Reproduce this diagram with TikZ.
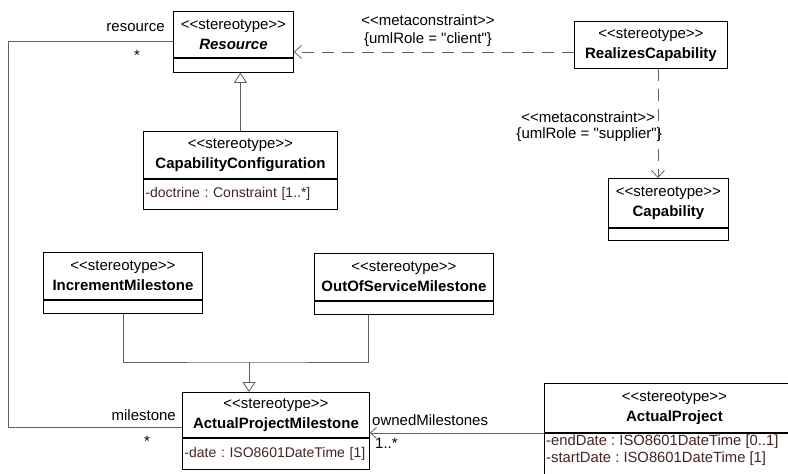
\documentclass[tikz,border=0pt]{standalone}
\usepackage{fontspec}
\setmainfont{Liberation Sans}
\usepackage{xcolor}
\usepackage{tikz}
\usetikzlibrary{arrows.meta, shapes, positioning}

\definecolor{attrtext}{RGB}{70,36,36}
\definecolor{linkgray}{RGB}{96,96,96}
\newcommand{\stereo}{<{}<stereotype>{}>}
\newcommand{\metac}{<{}<metaconstraint>{}>}
\newcommand{\qt}[1]{\textquotedbl#1\textquotedbl}
\frenchspacing

\begin{document}
\begin{tikzpicture}[x=1pt, y=-1pt,
  cls/.style={rectangle, draw, line width=0.9pt, fill=white, inner sep=0pt,
              align=center, anchor=north west, font=\fontsize{15}{20}\selectfont},
  compart/.style={rectangle, draw, line width=0.9pt, fill=white, inner xsep=2pt, inner ysep=3pt,
              text width=#1-4pt, minimum width=#1, align=left, text=attrtext,
              font=\fontsize{14}{17}\selectfont},
  lbl/.style={inner sep=0pt, font=\fontsize{15}{18}\selectfont},
  link/.style={draw=linkgray, line width=0.8pt},
  gen/.style={link, -{Triangle[open, length=10pt, width=13pt, fill=white]}},
  dep/.style={link, dash pattern=on 12pt off 8pt, -{Straight Barb[length=7pt, width=13pt]}},
  assoc/.style={link, -{Straight Barb[length=6pt, width=11pt]}}
]
\useasboundingbox (0,0) rectangle (788,474);
\clip (0,0) rectangle (788,474);

% classes
\node[cls, minimum width=120pt, minimum height=46pt] (res) at (173,11) {\stereo\\\textbf{\textit{Resource}}};
\node[compart=120pt, minimum height=14pt, below=0pt of res] (res-c) {};

\node[cls, minimum width=194pt, minimum height=47pt] (cc) at (143,131) {\stereo\\\textbf{CapabilityConfiguration}};
\node[compart=194pt, minimum height=30pt, below=0pt of cc] (cc-c) {\mbox{-doctrine : Constraint [1..*]}};

\node[cls, minimum width=153pt, minimum height=47pt] (rc) at (574,21) {\stereo\\\textbf{RealizesCapability}};

\node[cls, minimum width=120pt, minimum height=49pt] (cap) at (608,178) {\stereo\\\textbf{Capability}};
\node[compart=120pt, minimum height=12pt, below=0pt of cap] (cap-c) {};

\node[cls, minimum width=159pt, minimum height=47pt] (im) at (43,252) {\stereo\\\textbf{IncrementMilestone}};
\node[compart=159pt, minimum height=13pt, below=0pt of im] (im-c) {};

\node[cls, minimum width=179pt, minimum height=47pt] (oos) at (314,253) {\stereo\\\textbf{OutOfServiceMilestone}};
\node[compart=179pt, minimum height=13pt, below=0pt of oos] (oos-c) {};

\node[cls, minimum width=187pt, minimum height=45pt] (apm) at (182,392) {\stereo\\\textbf{ActualProjectMilestone}};
\node[compart=187pt, minimum height=31pt, below=0pt of apm] (apm-c) {\mbox{-date : ISO8601DateTime [1]}};

\node[cls, minimum width=260pt, minimum height=49pt] (ap) at (544,383) {\stereo\\\textbf{ActualProject}};
\node[compart=260pt, minimum height=60pt, below=0pt of ap] (ap-c) {};
\node[lbl, text=attrtext, align=left, anchor=north west, font=\fontsize{14.8}{17}\selectfont] (ap-attr)
  at ([xshift=2pt, yshift=-2pt]ap-c.north west) {-endDate : ISO8601DateTime [0..1]\\-startDate : ISO8601DateTime [1]};

% generalizations
\draw[gen] (cc.north) -- (cc.north |- res-c.south);
\coordinate (join) at (249,362);
\draw[link] (im-c.south) |- (join) -| ([xshift=-36pt]oos-c.south);
\draw[gen] (join) -- (join |- apm.north);

% metaconstraints
\draw[dep] ([yshift=-7pt]rc.west) -- ([yshift=-7pt]rc.west -| res.east);
\node[lbl] (cl1) at (428,20) {\metac};
\node[lbl] (cl2) at (428,40) {\{umlRole = \qt{client}\}};
\draw[dep] ([xshift=7pt]rc.south) -- ([xshift=7pt]rc.south |- cap.north);
\node[lbl, anchor=east] (sp1) at (655,117) {\metac};
\node[lbl, anchor=east] (sp2) at (662,135) {\{umlRole = \qt{supplier}\}};

% associations
\draw[link] ([yshift=-7pt]res.west) -- ++(-165,0) |- ([yshift=-12pt]apm.west);
\node[lbl, anchor=east] (resrole) at (165,28) {resource};
\node[lbl] (resmult) at (137,55) {*};
\node[lbl, anchor=east] (msrole) at (176,415) {milestone};
\node[lbl] (msmult) at (147,441) {*};
\draw[assoc] (ap.south west) -- (ap.south west -| apm.east);
\node[lbl, anchor=west] (ownrole) at (372,420) {ownedMilestones};
\node[lbl, anchor=west] (ownmult) at (375,443) {1..*};
\end{tikzpicture}
\end{document}
